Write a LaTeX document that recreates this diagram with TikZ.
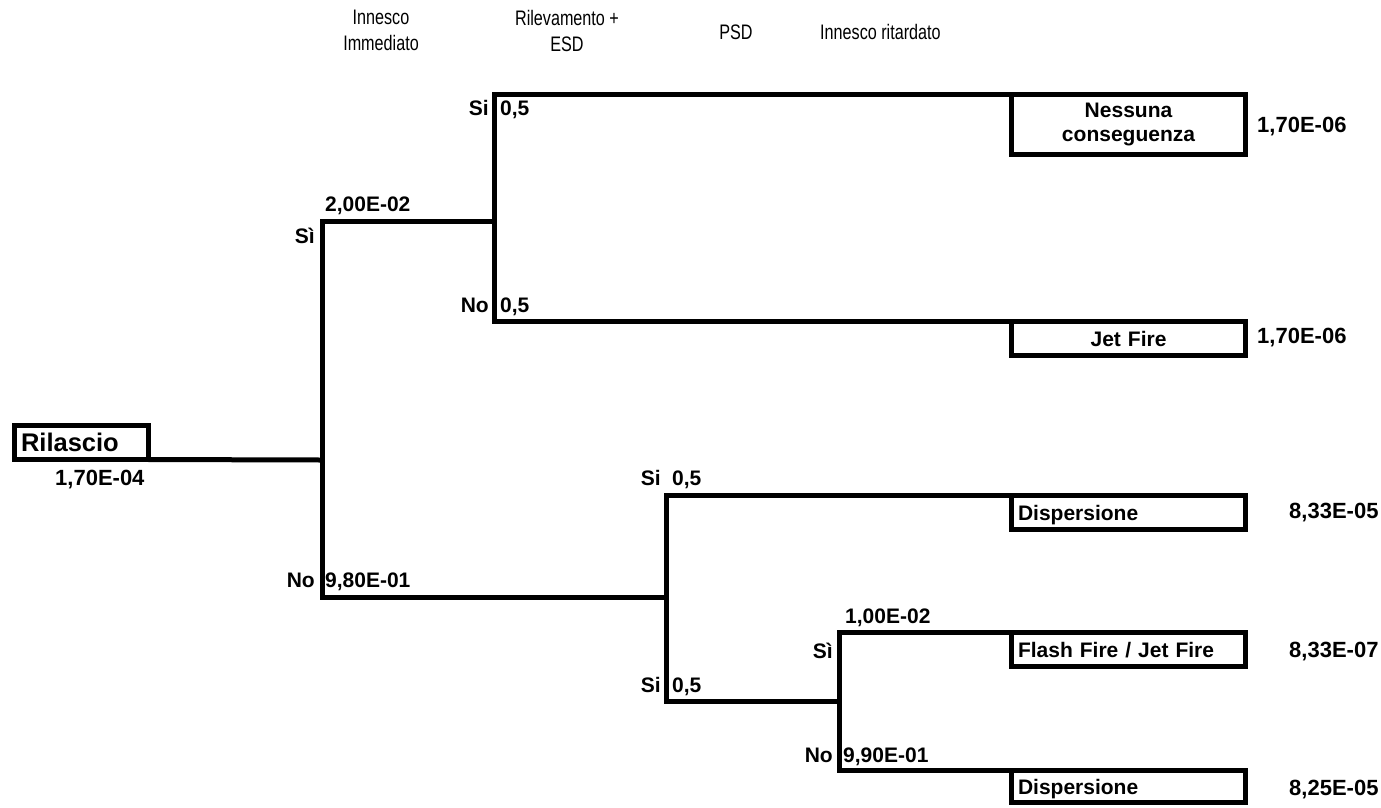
\documentclass[tikz,border=0pt]{standalone}
\usepackage{fontspec}
\setmainfont{Liberation Sans}
\newfontfamily\hdrfont[FakeStretch=0.77]{Liberation Sans}
\begin{document}
\begin{tikzpicture}[x=1pt,y=-1pt,
  branch/.style={line width=5pt, line cap=butt, line join=miter},
  outbox/.style={draw, line width=5pt, outer sep=0pt, inner xsep=6.5pt, inner ysep=0pt,
    anchor=north west, minimum width=234pt, text width=221pt,
    font=\bfseries\fontsize{21}{24}\selectfont},
  onerow/.style={text height=15pt, text depth=0pt, minimum height=34pt},
  lbl/.style={font=\bfseries\fontsize{21}{24}\selectfont, inner sep=0pt},
  val/.style={font=\bfseries\fontsize{22}{24}\selectfont, inner sep=0pt},
  hdr/.style={font=\hdrfont\fontsize{21}{26}\selectfont, align=center, inner sep=0pt}]
\useasboundingbox (0,0) rectangle (1381,807);

% headers
\node[hdr, anchor=north] (h1) at (381,10) {Innesco\\Immediato};
\node[hdr, anchor=north] (h2) at (567,10) {Rilevamento +\\ESD};
\node[hdr, anchor=base] (h3) at (736,39) {PSD};
\node[hdr, anchor=base west] (h4) at (820,39) {Innesco ritardato};

% initiating event
\node[draw, line width=5pt, outer sep=0pt, inner xsep=6.5pt, inner ysep=0pt,
  anchor=north west, minimum width=134pt, minimum height=34pt, text width=121pt,
  text height=18pt, text depth=0pt, align=left,
  font=\bfseries\fontsize{25.5}{28}\selectfont] (ril) at (14.5,425.5) {Rilascio};

% outcome boxes
\node[outbox, align=center, minimum height=60pt] (nc) at (1011.5,94.5) {Nessuna\\[0pt]conseguenza};
\node[outbox, onerow, align=center] (jf) at (1011.5,321.5) {Jet Fire};
\node[outbox, onerow, align=left] (d1) at (1011.5,495.5) {Dispersione};
\node[outbox, onerow, align=left] (ff) at (1011.5,632.5) {Flash Fire / Jet Fire};
\node[outbox, onerow, align=left, minimum height=32pt] (d2) at (1011.5,770.5) {Dispersione};

% junction points
\coordinate (j1) at (322.5,460);
\coordinate (a1) at (322.5,221);
\coordinate (b1) at (322.5,597);
\coordinate (j2) at (494.5,221);
\coordinate (a2) at (494.5,94.5);
\coordinate (b2) at (494.5,321.5);
\coordinate (j3) at (666,597);
\coordinate (a3) at (666,495.5);
\coordinate (b3) at (666,701);
\coordinate (j4) at (839,701);
\coordinate (a4) at (839,632.5);
\coordinate (b4) at (839,770.5);

% connectors
\draw[branch] (ril.south east) -- (j1);
\draw[branch] (j2) -- (a1) -- (b1) -- (j3);
\draw[branch] (nc.north west) -- (a2) -- (b2) -- (jf.north west);
\draw[branch] (d1.north west) -- (a3) -- (b3) -- (j4);
\draw[branch] (ff.north west) -- (a4) -- (b4) -- (d2.north west);

% branch labels
\node[val, anchor=base west] (p0) at (55,485) {1,70E-04};
\node[lbl, anchor=base west] (p1) at (325,211) {2,00E-02};
\node[lbl, anchor=base east] (s1) at (315,243) {Sì};
\node[lbl, anchor=base east] (n1) at (315,587) {No};
\node[lbl, anchor=base west] (p2) at (325,587) {9,80E-01};
\node[lbl, anchor=base east] (s2) at (489,115) {Si};
\node[lbl, anchor=base west] (p3) at (500,115) {0,5};
\node[lbl, anchor=base east] (n2) at (489,312) {No};
\node[lbl, anchor=base west] (p4) at (500,312) {0,5};
\node[lbl, anchor=base east] (s3) at (661,485) {Si};
\node[lbl, anchor=base west] (p5) at (672,485) {0,5};
\node[lbl, anchor=base east] (s4) at (661,692) {Si};
\node[lbl, anchor=base west] (p6) at (672,692) {0,5};
\node[lbl, anchor=base west] (p7) at (845,623) {1,00E-02};
\node[lbl, anchor=base east] (s5) at (833,658) {Sì};
\node[lbl, anchor=base east] (n3) at (833,762) {No};
\node[lbl, anchor=base west] (p8) at (843,762) {9,90E-01};

% frequencies
\node[val, anchor=base west] (f1) at (1257,132) {1,70E-06};
\node[val, anchor=base west] (f2) at (1257,343) {1,70E-06};
\node[val, anchor=base west] (f3) at (1289,518) {8,33E-05};
\node[val, anchor=base west] (f4) at (1289,657) {8,33E-07};
\node[val, anchor=base west] (f5) at (1289,795) {8,25E-05};
\end{tikzpicture}
\end{document}
